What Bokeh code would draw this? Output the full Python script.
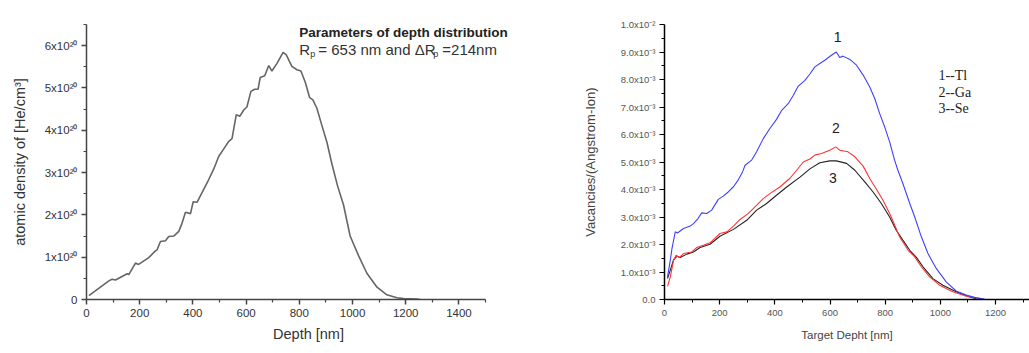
from bokeh.plotting import figure
from bokeh.layouts import row
from bokeh.models import FixedTicker, Label, Range1d
from bokeh.embed import file_html
from bokeh.resources import INLINE

# ---------------- data: left panel (He depth distribution) ----------------
depth_nm = [9, 84, 96, 109, 153, 159, 184, 196, 234, 259, 265, 278, 297, 309, 328, 347, 359,
            372, 391, 401, 416, 441, 459, 478, 497, 516, 535, 547, 563, 576, 591, 603, 618,
            632, 645, 653, 670, 685, 697, 716, 739, 751, 772, 791, 806, 822, 839, 851, 866,
            885, 904, 923, 944, 966, 991, 1023, 1054, 1092, 1129, 1167, 1192, 1242, 1254]
density_e20 = [0.09, 0.44, 0.48, 0.46, 0.61, 0.59, 0.86, 0.83, 0.99, 1.15, 1.17, 1.37, 1.39,
               1.49, 1.50, 1.61, 1.80, 2.06, 2.03, 2.31, 2.30, 2.61, 2.83, 3.08, 3.38, 3.56,
               3.74, 3.80, 4.37, 4.33, 4.48, 4.55, 4.92, 4.97, 4.97, 5.25, 5.29, 5.53, 5.40,
               5.58, 5.84, 5.78, 5.51, 5.43, 5.40, 5.14, 4.77, 4.72, 4.52, 4.11, 3.71, 3.19,
               2.68, 2.24, 1.50, 1.03, 0.62, 0.29, 0.11, 0.04, 0.02, 0.01, 0.0]
left_xticks = [0, 200, 400, 600, 800, 1000, 1200, 1400]
left_yticks = [0, 1, 2, 3, 4, 5, 6]
left_ylabels = ["0", "1x10²⁰", "2x10²⁰", "3x10²⁰", "4x10²⁰", "5x10²⁰", "6x10²⁰"]

# ---------------- data: right panel (vacancies, units of 1e-3) ----------------
tl_depth = [11, 21, 27, 39, 47, 69, 93, 105, 119, 135, 153, 171, 195, 213, 231, 250, 268, 283,
            292, 316, 334, 358, 382, 406, 425, 449, 467, 485, 509, 527, 545, 563, 581, 605,
            623, 635, 647, 672, 696, 720, 744, 762, 780, 798, 816, 834, 846, 864, 889, 907,
            931, 955, 985, 1021, 1057, 1094, 1130, 1160]
tl_vac = [0.82, 1.43, 1.85, 2.46, 2.42, 2.58, 2.67, 2.76, 2.91, 3.15, 3.13, 3.25, 3.64, 3.76,
          3.91, 4.10, 4.36, 4.64, 4.88, 5.07, 5.37, 5.85, 6.22, 6.55, 6.88, 7.13, 7.43, 7.76,
          7.97, 8.20, 8.46, 8.58, 8.70, 8.88, 9.00, 8.80, 8.85, 8.73, 8.52, 8.16, 7.73, 7.31,
          6.76, 6.28, 5.73, 5.07, 4.70, 4.22, 3.49, 3.00, 2.28, 1.67, 1.13, 0.64, 0.31, 0.16,
          0.06, 0.02]
ga_depth = [11, 21, 33, 42, 54, 69, 99, 117, 141, 165, 201, 226, 250, 274, 304, 328, 358, 382,
            418, 454, 479, 503, 527, 545, 569, 599, 621, 635, 665, 690, 720, 745, 770, 792,
            822, 852, 883, 907, 931, 961, 997, 1045, 1094, 1142]
ga_vac = [0.48, 0.82, 1.43, 1.61, 1.53, 1.67, 1.73, 1.89, 1.97, 2.06, 2.40, 2.46, 2.67, 2.91,
          3.13, 3.37, 3.67, 3.85, 4.09, 4.40, 4.70, 5.00, 5.11, 5.25, 5.31, 5.43, 5.55, 5.43,
          5.37, 5.19, 4.85, 4.38, 3.98, 3.61, 3.00, 2.28, 1.79, 1.55, 1.19, 0.82, 0.52, 0.28,
          0.12, 0.04]
se_depth = [11, 23, 33, 45, 57, 81, 105, 129, 165, 201, 250, 298, 334, 370, 406, 443, 491, 527,
            563, 599, 623, 660, 690, 726, 756, 786, 816, 840, 864, 889, 913, 937, 973, 1009,
            1057, 1106, 1130]
se_vac = [0.76, 1.13, 1.45, 1.57, 1.53, 1.65, 1.73, 1.89, 2.01, 2.30, 2.55, 2.88, 3.25, 3.49,
          3.79, 4.09, 4.45, 4.75, 4.97, 5.04, 5.04, 4.95, 4.70, 4.28, 3.91, 3.49, 3.00, 2.52,
          2.16, 1.79, 1.53, 1.19, 0.76, 0.52, 0.28, 0.09, 0.03]
right_xticks = [0, 200, 400, 600, 800, 1000, 1200]
right_yticks = [0, 1, 2, 3, 4, 5, 6, 7, 8, 9, 10]
right_ylabels = ["0.0", "1.0x10⁻³", "2.0x10⁻³", "3.0x10⁻³", "4.0x10⁻³", "5.0x10⁻³",
                 "6.0x10⁻³", "7.0x10⁻³", "8.0x10⁻³", "9.0x10⁻³", "1.0x10⁻²"]
curve_tags = ["1", "2", "3"]
curve_tag_pos = [(628, 9.54), (621, 6.23), (610, 4.41)]
legend_lines = ["1--Tl", "2--Ga", "3--Se"]
legend_pos = [(993, 8.16), (993, 7.54), (993, 6.96)]

SANS = "Liberation Sans"

# ---------------- left figure ----------------
# frame extends to the figure's right edge so the title block is not clipped;
# the x axis line itself is bounded to 0..1500
p1 = figure(width=530, height=353, output_backend="svg", toolbar_location=None,
            x_range=Range1d(0, 1669), y_range=Range1d(0, 6.5),
            min_border_left=86, min_border_right=0, min_border_top=10, min_border_bottom=48)
p1.outline_line_color = None
p1.grid.visible = False
p1.background_fill_color = "white"
p1.border_fill_color = "white"

p1.line(depth_nm, density_e20, line_color="#666666", line_width=1.6)

for ax in (p1.xaxis[0], p1.yaxis[0]):
    ax.axis_line_color = "#444444"
    ax.axis_line_width = 1.5
    ax.major_tick_line_color = "#444444"
    ax.minor_tick_line_color = "#444444"
    ax.major_tick_line_width = 1.5
    ax.minor_tick_line_width = 1.2
    ax.major_tick_out = 5
    ax.major_tick_in = 0
    ax.minor_tick_out = 3
    ax.minor_tick_in = 0
    ax.major_label_text_font = SANS
    ax.major_label_text_font_size = "11.5px"
    ax.major_label_text_color = "#333333"
    ax.axis_label_text_font = SANS
    ax.axis_label_text_font_style = "normal"
    ax.axis_label_text_font_size = "14.5px"
    ax.axis_label_text_color = "#333333"

p1.xaxis[0].bounds = (0, 1500)
p1.xaxis[0].ticker = FixedTicker(ticks=left_xticks,
                                 minor_ticks=[t + 100 for t in left_xticks])
p1.yaxis[0].ticker = FixedTicker(ticks=left_yticks,
                                 minor_ticks=[t + 0.5 for t in left_yticks])
p1.yaxis[0].major_label_overrides = dict(zip(left_yticks, left_ylabels))
p1.xaxis[0].axis_label = "Depth [nm]"
p1.yaxis[0].axis_label = "atomic density of [He/cm³]"
p1.xaxis[0].major_label_standoff = 4
p1.xaxis[0].axis_label_standoff = 6
p1.yaxis[0].major_label_standoff = 4
p1.yaxis[0].axis_label_standoff = 14

# title block (anchored in data space, pieces offset in pixels)
tx, ty1, ty2 = 800, 6.30, 5.91
p1.add_layout(Label(x=tx, y=ty1, text="Parameters of depth distribution",
                    text_font=SANS, text_font_style="bold", text_font_size="13.5px",
                    text_color="#222222", text_baseline="middle"))
pieces = [("R", 0, 0, "15px"), ("p", 11, -5, "9px"),
          ("= 653 nm and ΔR", 19, 0, "15px"), ("p", 134, -5, "9px"),
          ("=214nm", 143, 0, "15px")]
for txt, dx, dy, fs in pieces:
    p1.add_layout(Label(x=tx, y=ty2, x_offset=dx, y_offset=dy, text=txt,
                        text_font=SANS, text_font_size=fs, text_color="#333333",
                        text_baseline="middle"))

# ---------------- right figure ----------------
p2 = figure(width=499, height=353, output_backend="svg", toolbar_location=None,
            x_range=Range1d(0, 1323), y_range=Range1d(0, 10),
            min_border_left=134, min_border_right=0, min_border_top=24, min_border_bottom=54)
p2.outline_line_color = None
p2.grid.visible = False
p2.background_fill_color = "white"
p2.border_fill_color = "white"

p2.line(se_depth, se_vac, line_color="#222222", line_width=1.1)
p2.line(ga_depth, ga_vac, line_color="#ff3333", line_width=1.1)
p2.line(tl_depth, tl_vac, line_color="#4040ff", line_width=1.1)

for ax in (p2.xaxis[0], p2.yaxis[0]):
    ax.axis_line_color = "black"
    ax.axis_line_width = 1.5
    ax.major_tick_line_color = "black"
    ax.minor_tick_line_color = "black"
    ax.major_tick_line_width = 1.2
    ax.minor_tick_line_width = 1.0
    ax.major_tick_out = 5
    ax.major_tick_in = 0
    ax.minor_tick_out = 3
    ax.minor_tick_in = 0
    ax.major_label_text_font = SANS
    ax.major_label_text_font_size = "9.5px"
    ax.major_label_text_color = "#555555"
    ax.axis_label_text_font = SANS
    ax.axis_label_text_font_style = "normal"
    ax.axis_label_text_color = "#444444"

p2.xaxis[0].ticker = FixedTicker(ticks=right_xticks,
                                 minor_ticks=[t + 100 for t in right_xticks])
p2.yaxis[0].ticker = FixedTicker(ticks=right_yticks,
                                 minor_ticks=[t + 0.5 for t in right_yticks])
p2.yaxis[0].major_label_overrides = dict(zip(right_yticks, right_ylabels))
p2.xaxis[0].axis_label = "Target Depht [nm]"
p2.yaxis[0].axis_label = "Vacancies/(Angstrom-Ion)"
p2.xaxis[0].axis_label_text_font_size = "11.5px"
p2.yaxis[0].axis_label_text_font_size = "13px"
p2.xaxis[0].major_label_standoff = 5
p2.xaxis[0].axis_label_standoff = 10
p2.yaxis[0].major_label_standoff = 4
p2.yaxis[0].axis_label_standoff = 20

for txt, (x, y) in zip(curve_tags, curve_tag_pos):
    p2.add_layout(Label(x=x, y=y, text=txt, text_font=SANS, text_font_size="14px",
                        text_color="#222222", text_align="center", text_baseline="middle"))
for txt, (x, y) in zip(legend_lines, legend_pos):
    p2.add_layout(Label(x=x, y=y, text=txt, text_font="Liberation Serif",
                        text_font_size="14px", text_color="#222222",
                        text_baseline="middle"))

layout = row(p1, p2)
open("out.html", "w").write(file_html(layout, INLINE))
